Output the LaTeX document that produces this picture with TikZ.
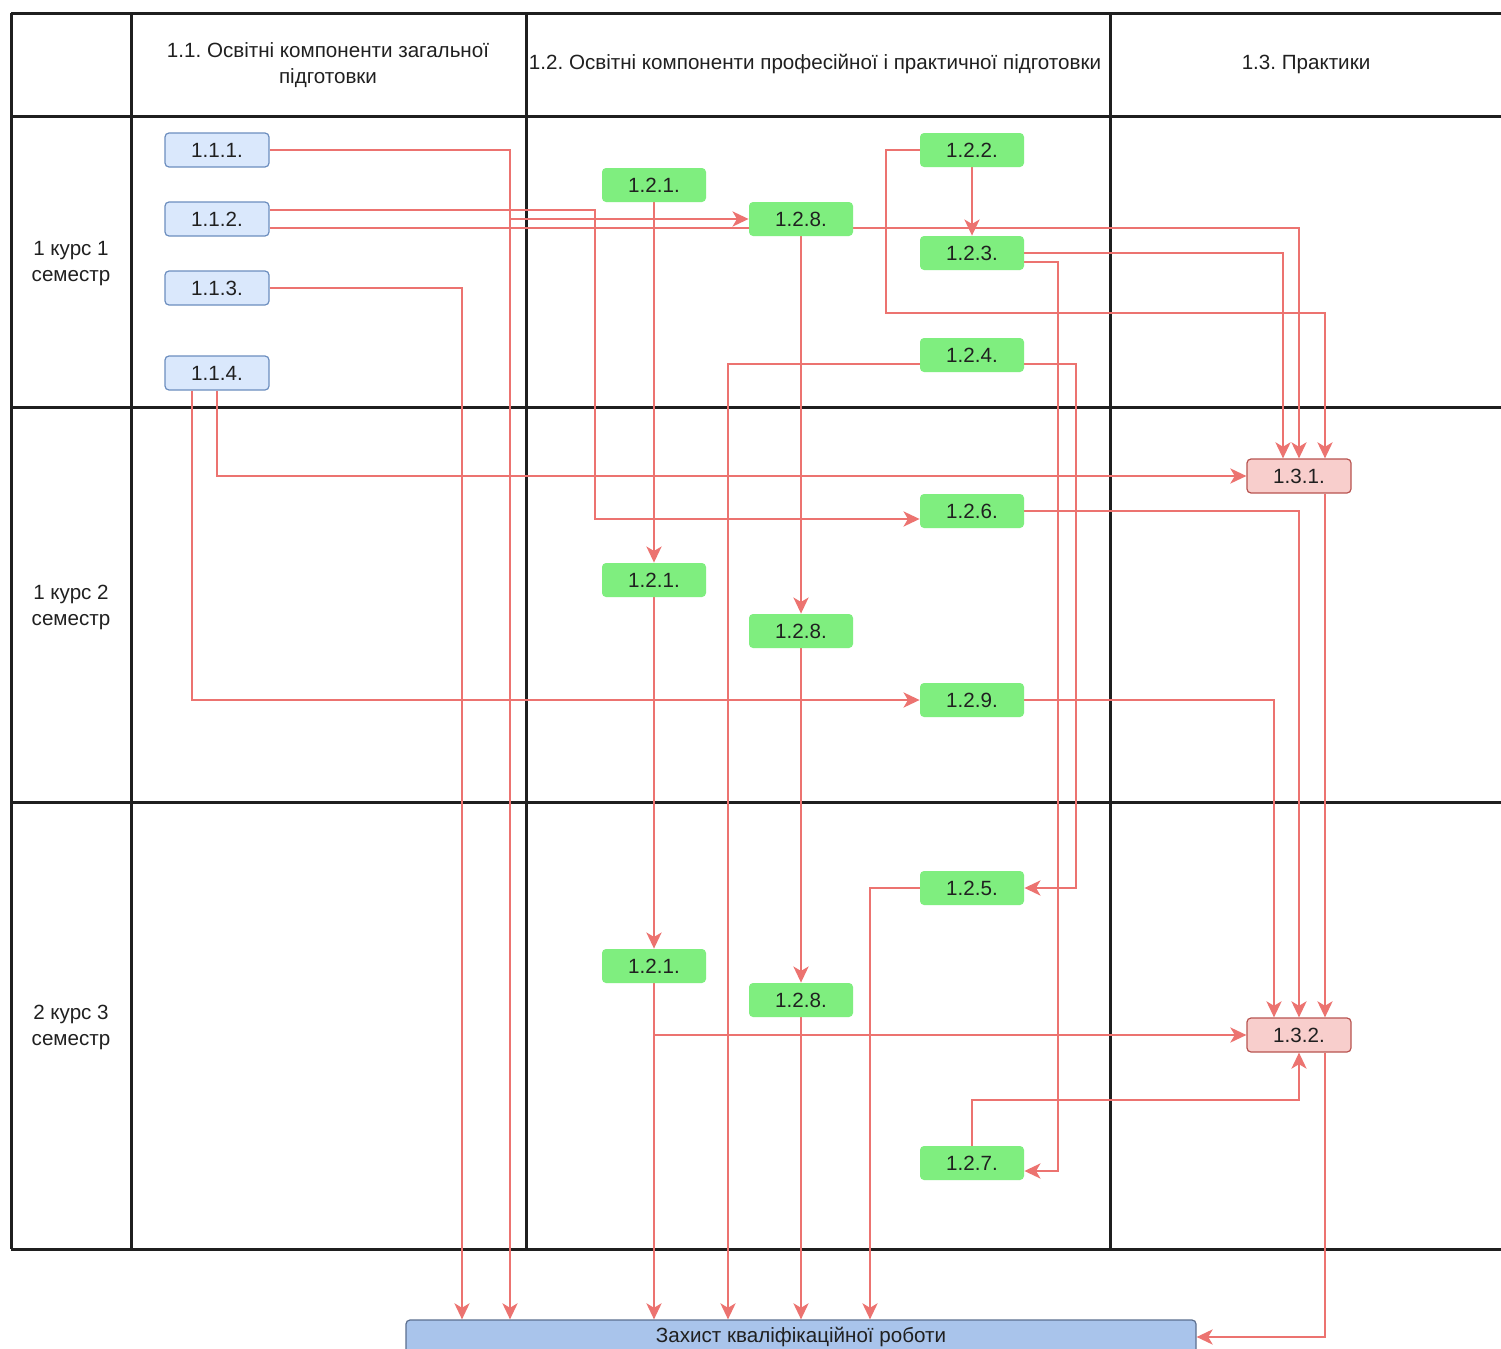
\documentclass[tikz,border=0pt]{standalone}
\usepackage{fontspec}
\setmainfont{Liberation Sans}
\usetikzlibrary{arrows.meta,calc}
\pgfdeclarelayer{bg}
\pgfsetlayers{bg,main}
\definecolor{edgered}{HTML}{EC7370}
\definecolor{bluefill}{HTML}{DAE8FC}
\definecolor{bluedraw}{HTML}{6C8EBF}
\definecolor{grnfill}{HTML}{7FEE7F}
\definecolor{pinkfill}{HTML}{F8CECC}
\definecolor{pinkdraw}{HTML}{B85450}
\definecolor{finfill}{HTML}{A9C4EB}
\definecolor{findraw}{HTML}{5C6F8F}
\definecolor{txt}{HTML}{202020}
\frenchspacing
\begin{document}
\begin{tikzpicture}[x=0.5pt,y=-0.5pt,
  every node/.style={font=\fontsize{10.3}{13}\selectfont, text=txt},
  tbl/.style={draw=black!88, line width=1.5pt},
  edge/.style={draw=edgered, line width=1.4pt, -{Stealth[length=8pt,width=7.5pt,inset=2.2pt]}},
  boxbase/.style={rectangle, rounded corners=2pt, minimum width=52pt, minimum height=17pt, inner sep=0pt},
  bluebox/.style={boxbase, draw=bluedraw, fill=bluefill, line width=0.6pt},
  grnbox/.style={boxbase, fill=grnfill},
  pinkbox/.style={boxbase, draw=pinkdraw, fill=pinkfill, line width=0.6pt},
  finbox/.style={rectangle, rounded corners=2pt, draw=findraw, fill=finfill, line width=0.6pt, minimum width=395pt, minimum height=17pt, inner sep=0pt},
  hdr/.style={align=center, inner sep=0pt}
]
\useasboundingbox (0,0) rectangle (1501,1349);
\clip (0,0) rectangle (1501,1349);

% lanes
\coordinate (xA) at (462,0);
\coordinate (xB) at (510,0);
\coordinate (xC) at (595,0);
\coordinate (xD) at (728,0);
\coordinate (xE) at (870,0);
\coordinate (xG) at (1058,0);
\coordinate (xH) at (1076,0);
\coordinate (b1) at (886,313);
\coordinate (yJ) at (0,1100);

% headers
\node[hdr] (h0) at (328,65) {1.1. Освітні компоненти загальної\\підготовки};
\node[hdr] (h1) at (815,64) {1.2. Освітні компоненти професійної і практичної підготовки};
\node[hdr] (h2) at (1306,64) {1.3. Практики};
\node[hdr] (r1) at (71,264) {1 курс 1\\семестр};
\node[hdr] (r2) at (71,607) {1 курс 2\\семестр};
\node[hdr] (r3) at (71,1027) {2 курс 3\\семестр};

% nodes
\node[bluebox] (n111) at (217,150) {1.1.1.};
\node[bluebox] (n112) at (217,219) {1.1.2.};
\node[bluebox] (n113) at (217,288) {1.1.3.};
\node[bluebox] (n114) at (217,373) {1.1.4.};

\node[grnbox] (n121a) at (654,185) {1.2.1.};
\node[grnbox] (n128a) at (801,219) {1.2.8.};
\node[grnbox] (n122) at (972,150) {1.2.2.};
\node[grnbox] (n123) at (972,253) {1.2.3.};
\node[grnbox] (n124) at (972,355) {1.2.4.};
\node[grnbox] (n126) at (972,511) {1.2.6.};
\node[grnbox] (n121b) at (654,580) {1.2.1.};
\node[grnbox] (n128b) at (801,631) {1.2.8.};
\node[grnbox] (n129) at (972,700) {1.2.9.};
\node[grnbox] (n125) at (972,888) {1.2.5.};
\node[grnbox] (n121c) at (654,966) {1.2.1.};
\node[grnbox] (n128c) at (801,1000) {1.2.8.};
\node[grnbox] (n127) at (972,1163) {1.2.7.};

\node[pinkbox] (n131) at (1299,476) {1.3.1.};
\node[pinkbox] (n132) at (1299,1035) {1.3.2.};

\node[finbox] (zah) at (801,1337) {Захист кваліфікаційної роботи};

\begin{pgfonlayer}{bg}
\fill[white] (0,0) rectangle (1501,1349);
% table
\draw[tbl] (11,13) -- (1510,13) (11,116) -- (1510,116) (11,407) -- (1510,407)
  (11,802) -- (1510,802) (11,1249) -- (1510,1249);
\draw[tbl] (11,13) -- (11,1249) (131,13) -- (131,1249) (526,13) -- (526,1249) (1110,13) -- (1110,1249);

% connectors
\draw[edge] (n111.east) -| (zah.north -| xB);
\draw[edge] (n111.east) -| (xB |- n128a.west) -- (n128a.west);
\draw[edge] ($(n112.east)+(0,-9)$) -| ($(xC |- n126.west)+(0,8)$) -- ($(n126.west)+(0,8)$);
\draw[edge] ($(n112.east)+(0,9)$) -| (n131.north);
\draw[edge] (n113.east) -| (zah.north -| xA);
\draw[edge] ($(n114.south)+(-25,0)$) |- (n129.west);
\draw[edge] (n114.south) |- (n131.west);

\draw[edge] (n121a.south) -- (n121b.north);
\draw[edge] (n121b.south) -- (n121c.north);
\draw[edge] (n121c.south) -- (zah.north -| n121c.south);
\draw[edge] (n121c.south) |- (n132.west);

\draw[edge] (n128a.south) -- (n128b.north);
\draw[edge] (n128b.south) -- (n128c.north);
\draw[edge] (n128c.south) -- (zah.north -| n128c.south);

\draw[edge] (n122.south) -- (n123.north);
\draw[edge] (n122.west) -| (b1) -| ($(n131.north)+(26,0)$);
\draw[edge] (n123.east) -| ($(n131.north)+(-16,0)$);
\draw[edge] ($(n123.east)+(0,9)$) -| ($(xG |- n127.east)+(0,8)$) -- ($(n127.east)+(0,8)$);
\draw[edge] ($(n124.east)+(0,9)$) -| (xH |- n125.east) -- (n125.east);
\draw[edge] ($(n124.west)+(0,9)$) -| (zah.north -| xD);
\draw[edge] (n125.west) -| (zah.north -| xE);
\draw[edge] (n126.east) -| (n132.north);
\draw[edge] (n129.east) -| ($(n132.north)+(-25,0)$);
\draw[edge] ($(n131.south)+(26,0)$) -- ($(n132.north)+(26,0)$);
\draw[edge] ($(n132.south)+(26,0)$) |- (zah.east);
\draw[edge] (n127.north) -- (n127.north |- yJ) -- (n132.south |- yJ) -- (n132.south);
\end{pgfonlayer}
\end{tikzpicture}
\end{document}
